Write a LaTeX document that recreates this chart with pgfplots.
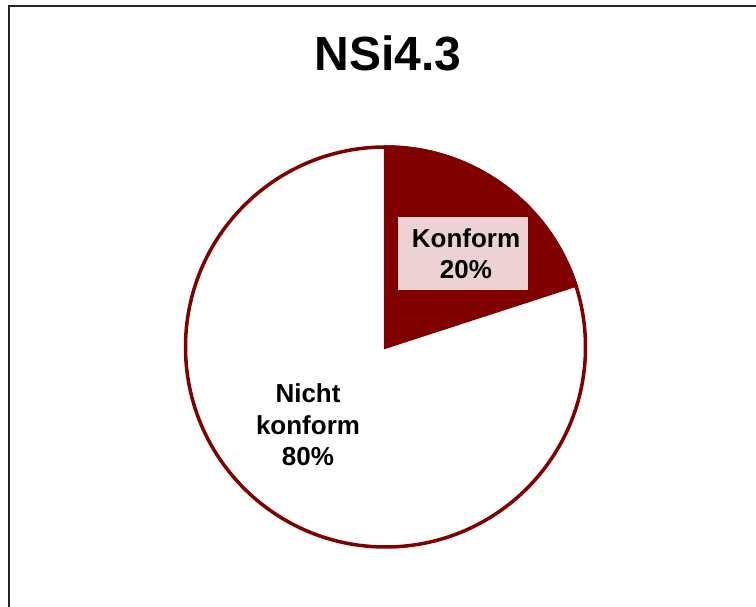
\documentclass[border=0pt]{standalone}
\usepackage{pgfplots}
\pgfplotsset{compat=1.18}
\usepackage{pgfplotstable}
\usepackage{fontspec}
\setmainfont{Liberation Sans}

\definecolor{piered}{RGB}{128,0,0}
\definecolor{labelpink}{RGB}{236,210,210}

% share of each slice in percent
\pgfplotstableread{
label value
Konform 20
Nicht 80
}\piedata

\begin{document}
\begin{tikzpicture}[x=1pt,y=1pt]
\useasboundingbox (0,0) rectangle (756,606);
\begin{axis}[
    at={(0,0)}, anchor=south west,
    scale only axis, width=756pt, height=606pt,
    xmin=0, xmax=756, ymin=0, ymax=606,
    hide axis, clip=false,
]
\pgfplotstablegetelem{0}{value}\of\piedata
\pgfmathsetmacro\angA{90-3.6*\pgfplotsretval}
% whole pie (white part)
\filldraw[fill=white, draw=piered, line width=3.5pt] (axis cs:385.5,259) circle[radius=200];
% Konform slice
\filldraw[fill=piered, draw=piered, line width=3.5pt, line join=miter]
  (axis cs:385.5,259) -- (axis cs:385.5,459)
  arc[start angle=90, end angle=\angA, radius=200] -- cycle;
% labels
\node[fill=labelpink, minimum width=130pt, minimum height=73pt, inner sep=0pt]
  at (axis cs:463,352.5) {};
\node[align=center, font=\fontsize{26}{31}\selectfont\bfseries]
  at (axis cs:466,352) {Konform\\20\%};
\node[align=center, font=\fontsize{26}{31.5}\selectfont\bfseries]
  at (axis cs:308,181) {Nicht\\konform\\80\%};
% title
\node[font=\fontsize{48}{56}\selectfont\bfseries] at (axis cs:388,553) {NSi4.3};
\end{axis}
\draw[line width=2.5pt, black!85] (9,-10) -- (9,600) -- (770,600);
\end{tikzpicture}
\end{document}
